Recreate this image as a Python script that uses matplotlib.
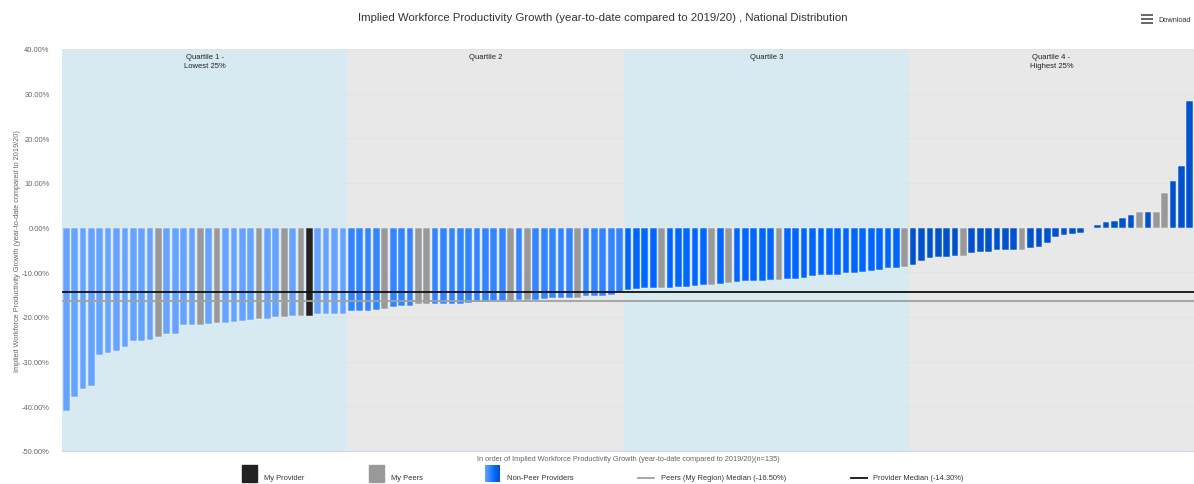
import matplotlib
matplotlib.use("Agg")
import matplotlib.pyplot as plt
import numpy as np
from matplotlib.patches import Rectangle
from matplotlib.lines import Line2D
from matplotlib.colors import LinearSegmentedColormap

plt.rcParams['font.family'] = ['Liberation Sans', 'DejaVu Sans']

# ---------------- data ----------------
q1_values = [-41.0, -37.8, -36.2, -35.5, -28.4, -28.1, -27.6, -26.7, -25.4, -25.4, -25.2, -24.4,
             -23.9, -23.8, -21.9, -21.7, -21.7, -21.6, -21.3, -21.3, -21.2, -20.9, -20.7, -20.5,
             -20.4, -20.0, -20.0, -19.8, -19.8, -19.8, -19.4, -19.3, -19.3, -19.3]
q2_values = [-18.7, -18.7, -18.7, -18.5, -18.1, -17.7, -17.5, -17.5, -17.2, -17.2, -17.1, -17.1,
             -17.0, -17.0, -16.9, -16.7, -16.6, -16.4, -16.4, -16.4, -16.3, -16.3, -16.3, -16.0,
             -15.8, -15.8, -15.8, -15.8, -15.4, -15.4, -15.3, -15.1, -14.5]
q3_values = [-14.0, -13.7, -13.6, -13.6, -13.6, -13.4, -13.3, -13.3, -13.1, -12.9, -12.9, -12.6,
             -12.3, -12.2, -11.9, -11.9, -11.9, -11.7, -11.7, -11.5, -11.5, -11.3, -10.8, -10.7,
             -10.6, -10.6, -10.2, -10.1, -9.9, -9.6, -9.5, -9.1, -9.0, -8.8]
q4_values = [-8.4, -7.5, -6.8, -6.6, -6.5, -6.3, -6.3, -5.7, -5.5, -5.4, -5.1, -5.0, -4.9, -4.9,
             -4.5, -4.3, -3.5, -2.2, -1.6, -1.5, -1.2, 0.0, 0.7, 1.3, 1.4, 2.2, 2.8, 3.4, 3.5,
             3.4, 7.7, 10.4, 13.9, 28.3]
# positions (0-based, in overall order) of peer and provider bars
peer_positions = [11, 16, 18, 23, 26, 28,
                  38, 42, 43, 53, 55, 61,
                  71, 77, 79, 85, 100,
                  107, 114, 128, 130, 131]
provider_positions = [29]

quartile_labels = ["Quartile 1 -\nLowest 25%", "Quartile 2", "Quartile 3", "Quartile 4 -\nHighest 25%"]
peers_median = -16.5
provider_median = -14.3
y_ticks = [40, 30, 20, 10, 0, -10, -20, -30, -40, -50]

title = "Implied Workforce Productivity Growth (year-to-date compared to 2019/20) , National Distribution"
y_label = "Implied Workforce Productivity Growth (year-to-date compared to 2019/20)"
x_label = "In order of Implied Workforce Productivity Growth (year-to-date compared to 2019/20)(n=135)"
legend_labels = ["My Provider", "My Peers", "Non-Peer Providers",
                 "Peers (My Region) Median (-16.50%)", "Provider Median (-14.30%)"]

# ---------------- styling ----------------
quartile_colors = ["#66a3ff", "#3385ff", "#0066ff", "#0052cc"]
band_colors = ["#d7eaf2", "#e8e8e8", "#d7eaf2", "#e8e8e8"]
peer_color = "#999999"
provider_color = "#222222"

W, H = 1194, 485
fig = plt.figure(figsize=(W / 100, H / 100), dpi=100)
fig.patch.set_facecolor("white")

def fx(px):
    return px / W

def fy(py):
    return 1 - py / H

ax = fig.add_axes([fx(62), fy(452), fx(1194) - fx(62), fy(50) - fy(452)])
ax.set_facecolor("white")

quartiles = [q1_values, q2_values, q3_values, q4_values]
values = []
colors = []
for qi, q in enumerate(quartiles):
    for v in q:
        values.append(v)
        colors.append(quartile_colors[qi])
for p in peer_positions:
    colors[p] = peer_color
for p in provider_positions:
    colors[p] = provider_color
x = np.arange(len(values))

# quartile bands
start = 0
for qi, q in enumerate(quartiles):
    end = start + len(q)
    ax.axvspan(start - 0.5, end - 0.5, color=band_colors[qi], zorder=0, lw=0)
    ax.text((start + end - 1) / 2, 39.0, quartile_labels[qi], ha="center", va="top",
            fontsize=5.5, color="#222222", linespacing=1.4, zorder=5)
    start = end

for t in y_ticks:
    ax.axhline(t, color="#e2e2e2", lw=0.7, zorder=1)

ax.bar(x, values, width=0.8, color=colors, edgecolor="#f4f8ff", linewidth=0.35, zorder=2)

ax.axhline(peers_median, color="#a0a0a0", lw=1.3, zorder=4)
ax.axhline(provider_median, color="#111111", lw=1.3, zorder=4)

ax.set_xlim(-0.5, len(values) - 0.5)
ax.set_ylim(-50, 40)
ax.set_xticks([])
ax.set_yticks(y_ticks)
ax.set_yticklabels([f"{t:.2f}%" for t in y_ticks], fontsize=5.4, color="#666666")
ax.tick_params(axis="y", length=0, pad=9)
for s in ["top", "right", "left"]:
    ax.spines[s].set_visible(False)
ax.spines["bottom"].set_color("#ccd6eb")
ax.spines["bottom"].set_linewidth(0.8)

# title & labels
fig.text(fx(603), fy(18), title, ha="center", va="center", fontsize=8.2, color="#333333")
fig.text(fx(18), fy(251), y_label, ha="center", va="center", rotation=90, fontsize=5.3, color="#666666")
fig.text(fx(628), fy(460), x_label, ha="center", va="center", fontsize=5.3, color="#666666")

# download
fig.text(fx(1158), fy(20), "Download", ha="left", va="center", fontsize=5.3, color="#333333")
for yy in [15.5, 19.5, 23.5]:
    fig.add_artist(Line2D([fx(1142), fx(1152)], [fy(yy), fy(yy)], color="#666666", lw=1.4))

# legend
fig.add_artist(Rectangle((fx(242), fy(483)), fx(15), fy(466) - fy(483), color=provider_color))
fig.text(fx(264), fy(479), legend_labels[0], ha="left", va="center", fontsize=5.4, color="#333333")
fig.add_artist(Rectangle((fx(369), fy(483)), fx(15), fy(466) - fy(483), color=peer_color))
fig.text(fx(391), fy(479), legend_labels[1], ha="left", va="center", fontsize=5.4, color="#333333")
gax = fig.add_axes([fx(485), fy(483), fx(15), fy(466) - fy(483)])
grad = np.linspace(0, 1, 64).reshape(1, -1)
cmap = LinearSegmentedColormap.from_list("g", quartile_colors)
gax.imshow(grad, aspect="auto", cmap=cmap)
gax.axis("off")
fig.text(fx(507), fy(479), legend_labels[2], ha="left", va="center", fontsize=5.4, color="#333333")
fig.add_artist(Line2D([fx(638), fx(654)], [fy(479), fy(479)], color="#a0a0a0", lw=1.3))
fig.text(fx(661), fy(479), legend_labels[3], ha="left", va="center", fontsize=5.4, color="#333333")
fig.add_artist(Line2D([fx(851), fx(867)], [fy(479), fy(479)], color="#111111", lw=1.3))
fig.text(fx(873), fy(479), legend_labels[4], ha="left", va="center", fontsize=5.4, color="#333333")

fig.savefig("out.png", dpi=100)
